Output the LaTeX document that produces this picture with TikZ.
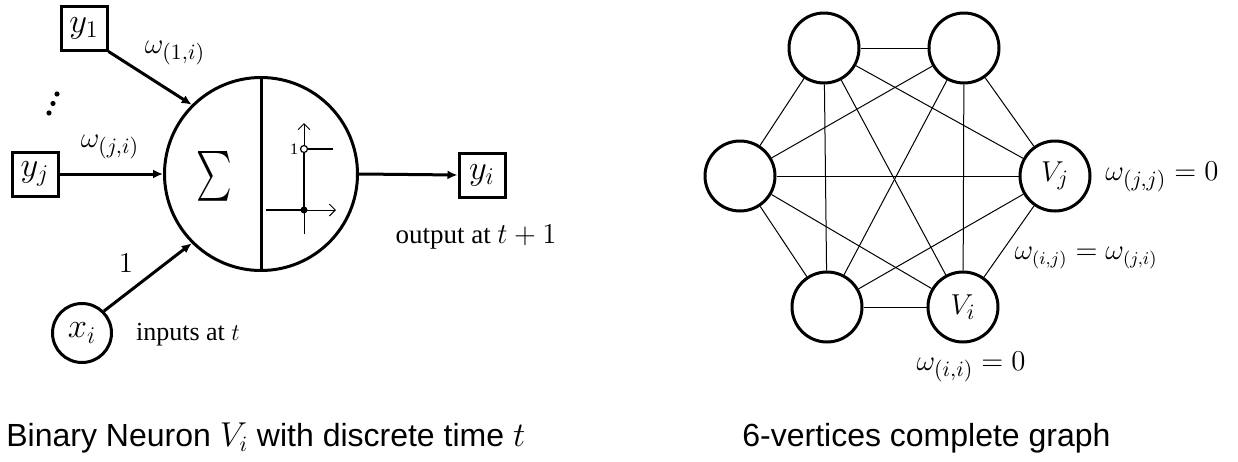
\documentclass[tikz,border=0pt]{standalone}
\usepackage{amsmath}
\usepackage{fontspec}
\setmainfont{Liberation Serif}
\newfontfamily\capfont{Liberation Sans}
\usetikzlibrary{positioning, arrows.meta, calc}

\begin{document}
\begin{tikzpicture}[x=0.5pt, y=-0.5pt,
  every node/.style={font=\fontsize{15.5}{18}\selectfont},
  unit/.style={draw, line width=1.5pt, minimum width=23pt, minimum height=22pt, inner sep=0pt, font=\fontsize{17}{19}\selectfont},
  vertex/.style={draw, circle, line width=1.5pt, minimum size=35pt, inner sep=0pt, font=\fontsize{15}{17}\selectfont},
  wire/.style={line width=1.5pt, -{Latex[length=5pt, width=4.5pt]}},
  edge/.style={line width=0.5pt},
  caption/.style={anchor=base west, inner sep=0pt, font=\capfont\fontsize{16}{19}\selectfont}]
  \useasboundingbox (0,0) rectangle (1238,461);

  % binary neuron
  \node[draw, circle, line width=1.5pt, minimum size=96.5pt, inner sep=0pt] (neuron) at (261,174) {};
  \draw[line width=1.5pt] (neuron.north) -- (neuron.south);
  \node[xscale=0.68, font=\fontsize{28}{30}\selectfont] (sum) at (214,176) {$\sum$};

  % step function
  \draw[line width=0.5pt, -{Straight Barb[length=3pt]}] (304,234) -- (304,123);
  \draw[line width=0.5pt, -{Straight Barb[length=3pt]}] (266,210) -- (336,210);
  \draw[line width=1.2pt] (266,210) -- (304,210) -- (304,149);
  \draw[line width=1.2pt] (304,149) -- (333,149);
  \fill (304,210) circle (1.75pt);
  \draw[line width=0.6pt, fill=white] (304,149) circle (1.75pt);
  \node[font=\fontsize{8}{9}\selectfont, inner sep=0pt] (one) at (294,149) {1};

  % inputs and output
  \node[unit] (y1) at (84,28) {$y_1$};
  \node[unit] (yj) at (35,174) {$y_j$};
  \node[unit] (yi) at (482,175) {$y_i$};
  \node[draw, circle, line width=1.5pt, minimum size=29.5pt, inner sep=0pt, font=\fontsize{17}{19}\selectfont] (xi) at (82,333) {$x_i$};
  \foreach \p in {(49,113), (53,103.5), (57,94)}
    \fill \p circle (1.3pt);

  \draw[wire] (y1.south east) -- (neuron.135);
  \draw[wire] (yj.east) -- (neuron.west);
  \draw[wire] (xi.45) -- (neuron.225);
  \draw[wire] (neuron.east) -- (yi.west);

  \node (w1i) at (175,53) {$\omega_{(1,i)}$};
  \node (wji) at (110,147) {$\omega_{(j,i)}$};
  \node (wx) at (126,263) {$1$};
  \node[font=\fontsize{13}{15}\selectfont] (intxt) at (188,335) {inputs at $t$};
  \node[font=\fontsize{13.5}{15}\selectfont] (outtxt) at (476,237) {output at $t+1$};
  \node[caption] (cap1) at (6,446) {Binary Neuron $V_i$ with discrete time $t$};

  % complete graph
  \node[vertex] (n1) at (1055,176) {$V_j$};
  \node[vertex] (n2) at (964,48) {};
  \node[vertex] (n3) at (824,48) {};
  \node[vertex] (n4) at (740,176) {};
  \node[vertex] (n5) at (827,307) {};
  \node[vertex] (n6) at (963,307) {$V_i$};
  \foreach \a in {1,...,5}{
    \pgfmathtruncatemacro\nxt{\a+1}
    \foreach \b in {\nxt,...,6}
      \draw[edge] (n\a) -- (n\b);
  }

  \node[font=\fontsize{15.5}{17}\selectfont] (wjj) at (1162,177) {$\omega_{(j,j)} = 0$};
  \node[font=\fontsize{13.5}{15}\selectfont] (wij) at (1086,258) {$\omega_{(i,j)} = \omega_{(j,i)}$};
  \node[font=\fontsize{15.5}{17}\selectfont] (wii) at (971,367) {$\omega_{(i,i)} = 0$};
  \node[caption] (cap2) at (742,446) {6-vertices complete graph};
\end{tikzpicture}
\end{document}
